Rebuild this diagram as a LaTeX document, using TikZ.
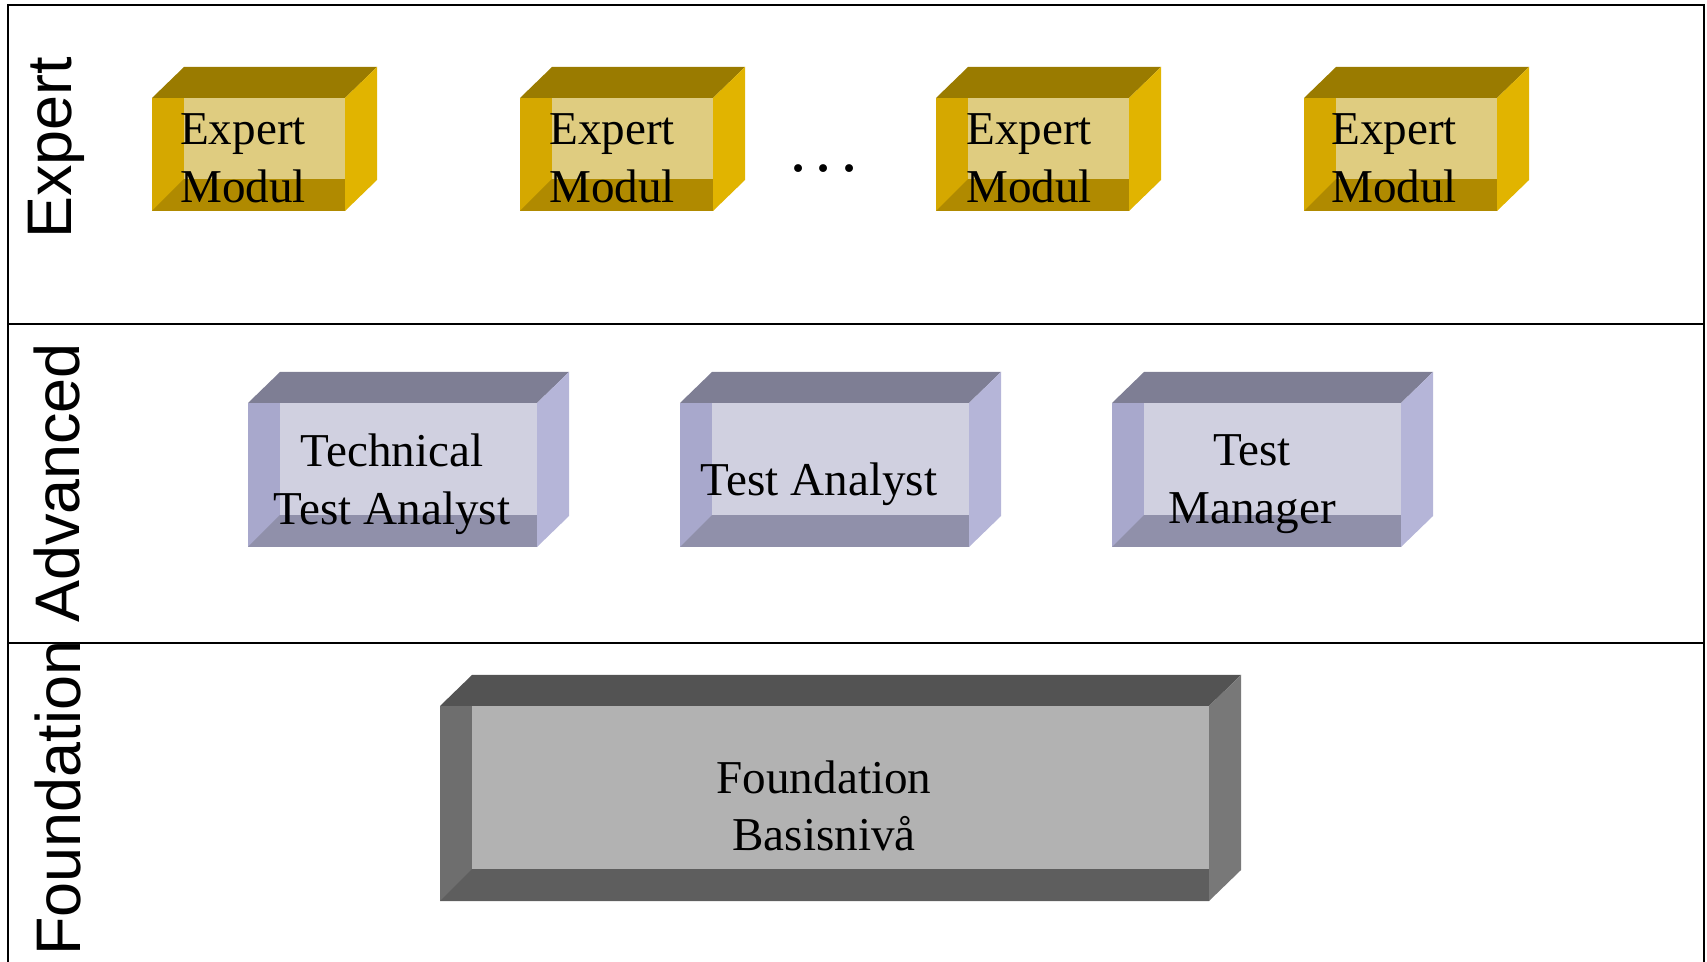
\documentclass[tikz,border=0pt]{standalone}
\usepackage{fontspec}
\setmainfont{Liberation Serif}
\setsansfont{Liberation Sans}
\usetikzlibrary{positioning}

% box colours: top, right side, left strip, bottom strip, inner face
\definecolor{exptop}{HTML}{9A7B00}
\definecolor{expside}{HTML}{E1B400}
\definecolor{expleft}{HTML}{D5A800}
\definecolor{expbottom}{HTML}{B08A00}
\definecolor{expinner}{HTML}{DFCC80}
\definecolor{advtop}{HTML}{7E7E94}
\definecolor{advside}{HTML}{B5B5D8}
\definecolor{advleft}{HTML}{A8A8CC}
\definecolor{advbottom}{HTML}{9090AA}
\definecolor{advinner}{HTML}{D0D0E0}
\definecolor{fndtop}{HTML}{535353}
\definecolor{fndside}{HTML}{787878}
\definecolor{fndleft}{HTML}{6E6E6E}
\definecolor{fndbottom}{HTML}{5E5E5E}
\definecolor{fndinner}{HTML}{B2B2B2}

% #1 colour set, (#2,#3) front top left, (#4,#5) front bottom right
\newcommand{\modcube}[5]{%
  \fill[#1left] (#2,#3) rectangle (#4,#5);
  \fill[#1bottom] (#2,#5) -- (#2+32,#5-32) -- (#4,#5-32) -- (#4,#5) -- cycle;
  \fill[#1inner] (#2+32,#3) rectangle (#4,#5-32);
  \fill[#1top] (#2,#3) -- (#2+32,#3-31) -- (#4+32,#3-31) -- (#4,#3) -- cycle;
  \fill[#1side] (#4,#3) -- (#4+32,#3-31) -- (#4+32,#5-31) -- (#4,#5) -- cycle;
}

\tikzset{
  modtext/.style={align=center, inner sep=0pt, font=\fontsize{13.4}{16.4}\selectfont},
  lvltext/.style={rotate=90, anchor=base, inner sep=0pt, font=\sffamily\fontsize{17.9}{20}\selectfont}
}

\begin{document}
\begin{tikzpicture}[x=0.01cm, y=-0.01cm]
    \useasboundingbox (0,0) rectangle (1707,962);

    % frame and level rows
    \draw[line width=0.8pt] (8,962) -- (8,5) -- (1704,5) -- (1704,962);
    \draw[line width=0.8pt] (8,324) -- (1704,324);
    \draw[line width=0.8pt] (8,643) -- (1704,643);

    \node[lvltext] (lblexpert) at (71,148) {Expert};
    \node[lvltext] (lbladvanced) at (79,483) {Advanced};
    \node[lvltext] (lblfoundation) at (80,798) {Foundation};

    % Expert level
    \modcube{exp}{152}{98}{345}{211}
    \modcube{exp}{520}{98}{713}{211}
    \modcube{exp}{936}{98}{1129}{211}
    \modcube{exp}{1304}{98}{1497}{211}
    \node[modtext] (exp1) at (243,158) {Expert\\Modul};
    \node[modtext] (exp2) at (612,158) {Expert\\Modul};
    \node[modtext] (exp3) at (1029,158) {Expert\\Modul};
    \node[modtext] (exp4) at (1394,158) {Expert\\Modul};
    \node[anchor=base, inner sep=0pt, font=\fontsize{13.4}{16.4}\selectfont\mathversion{bold}] (dots) at (824,173) {$\ldots$};

    % Advanced level
    \modcube{adv}{248}{403}{537}{547}
    \modcube{adv}{680}{403}{969}{547}
    \modcube{adv}{1112}{403}{1401}{547}
    \node[modtext] (tta) at (392,484) {Technical\\Test Analyst};
    \node[modtext] (ta) at (819,484) {Test Analyst};
    \node[modtext] (tm) at (1252,484) {Test\\Manager};

    % Foundation level
    \modcube{fnd}{440}{706}{1209}{901}
    \node[modtext] (fnd) at (824,806) {Foundation\\Basisnivå};
\end{tikzpicture}
\end{document}
